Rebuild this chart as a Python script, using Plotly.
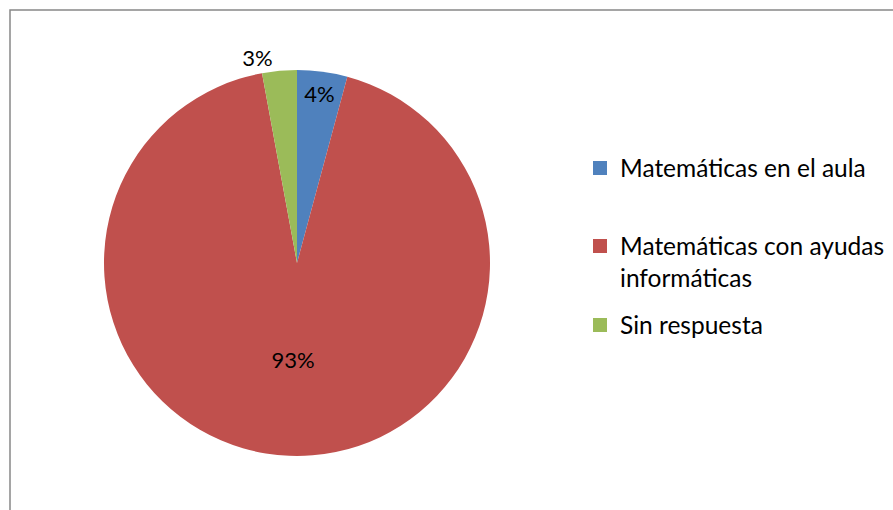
import plotly.graph_objects as go

categories = ["Matemáticas en el aula", "Matemáticas con ayudas<br>informáticas", "Sin respuesta"]
values = [4.2, 92.9, 2.9]
colors = ["#4F81BD", "#C0504D", "#9BBB59"]
text_positions = ["inside", "inside", "outside"]
legend_centers_px = [168, 262, 325]  # vertical centre of each legend entry (px from top)

W, H = 893, 510
FONT = "Lato"
LEG_FONT = 24.5

fig = go.Figure()
fig.add_trace(go.Pie(
    labels=categories,
    values=values,
    sort=False,
    direction="clockwise",
    rotation=0,
    marker=dict(colors=colors, line=dict(width=0)),
    texttemplate="%{percent:.0%}",
    textposition=text_positions,
    insidetextorientation="horizontal",
    insidetextfont=dict(color="black", size=22, family=FONT),
    outsidetextfont=dict(color="black", size=22, family=FONT),
    domain=dict(x=[104 / W, 490 / W], y=[1 - 456 / H, 1 - 70 / H]),
    hoverinfo="label+percent",
    showlegend=False,
))

# legend entries (one legend box per category so spacing can follow the reference)
legend_names = ["legend", "legend2", "legend3"]
for name, col, lg in zip(categories, colors, legend_names):
    fig.add_trace(go.Scatter(
        x=[None], y=[None], mode="markers", name=name,
        marker=dict(symbol="square", size=14, color=col),
        legend=lg, showlegend=True, hoverinfo="skip",
    ))

legend_layout = {}
for lg, cy in zip(legend_names, legend_centers_px):
    legend_layout[lg] = dict(
        x=580 / W, y=1 - cy / H, xanchor="left", yanchor="middle",
        font=dict(family=FONT, size=LEG_FONT, color="black"),
        valign="top", bgcolor="rgba(0,0,0,0)",
    )

fig.update_layout(
    width=W, height=H,
    margin=dict(l=0, r=0, t=0, b=0),
    paper_bgcolor="white",
    plot_bgcolor="white",
    font=dict(family=FONT, size=22, color="black"),
    uniformtext=dict(mode="show", minsize=22),
    xaxis=dict(visible=False),
    yaxis=dict(visible=False),
    shapes=[dict(type="rect", xref="paper", yref="paper",
                 x0=10 / W, x1=1.2, y0=-0.2, y1=1 - 10 / H,
                 line=dict(color="#888888", width=1.5), fillcolor="rgba(0,0,0,0)")],
    **legend_layout,
)

fig.write_html("out.html")
